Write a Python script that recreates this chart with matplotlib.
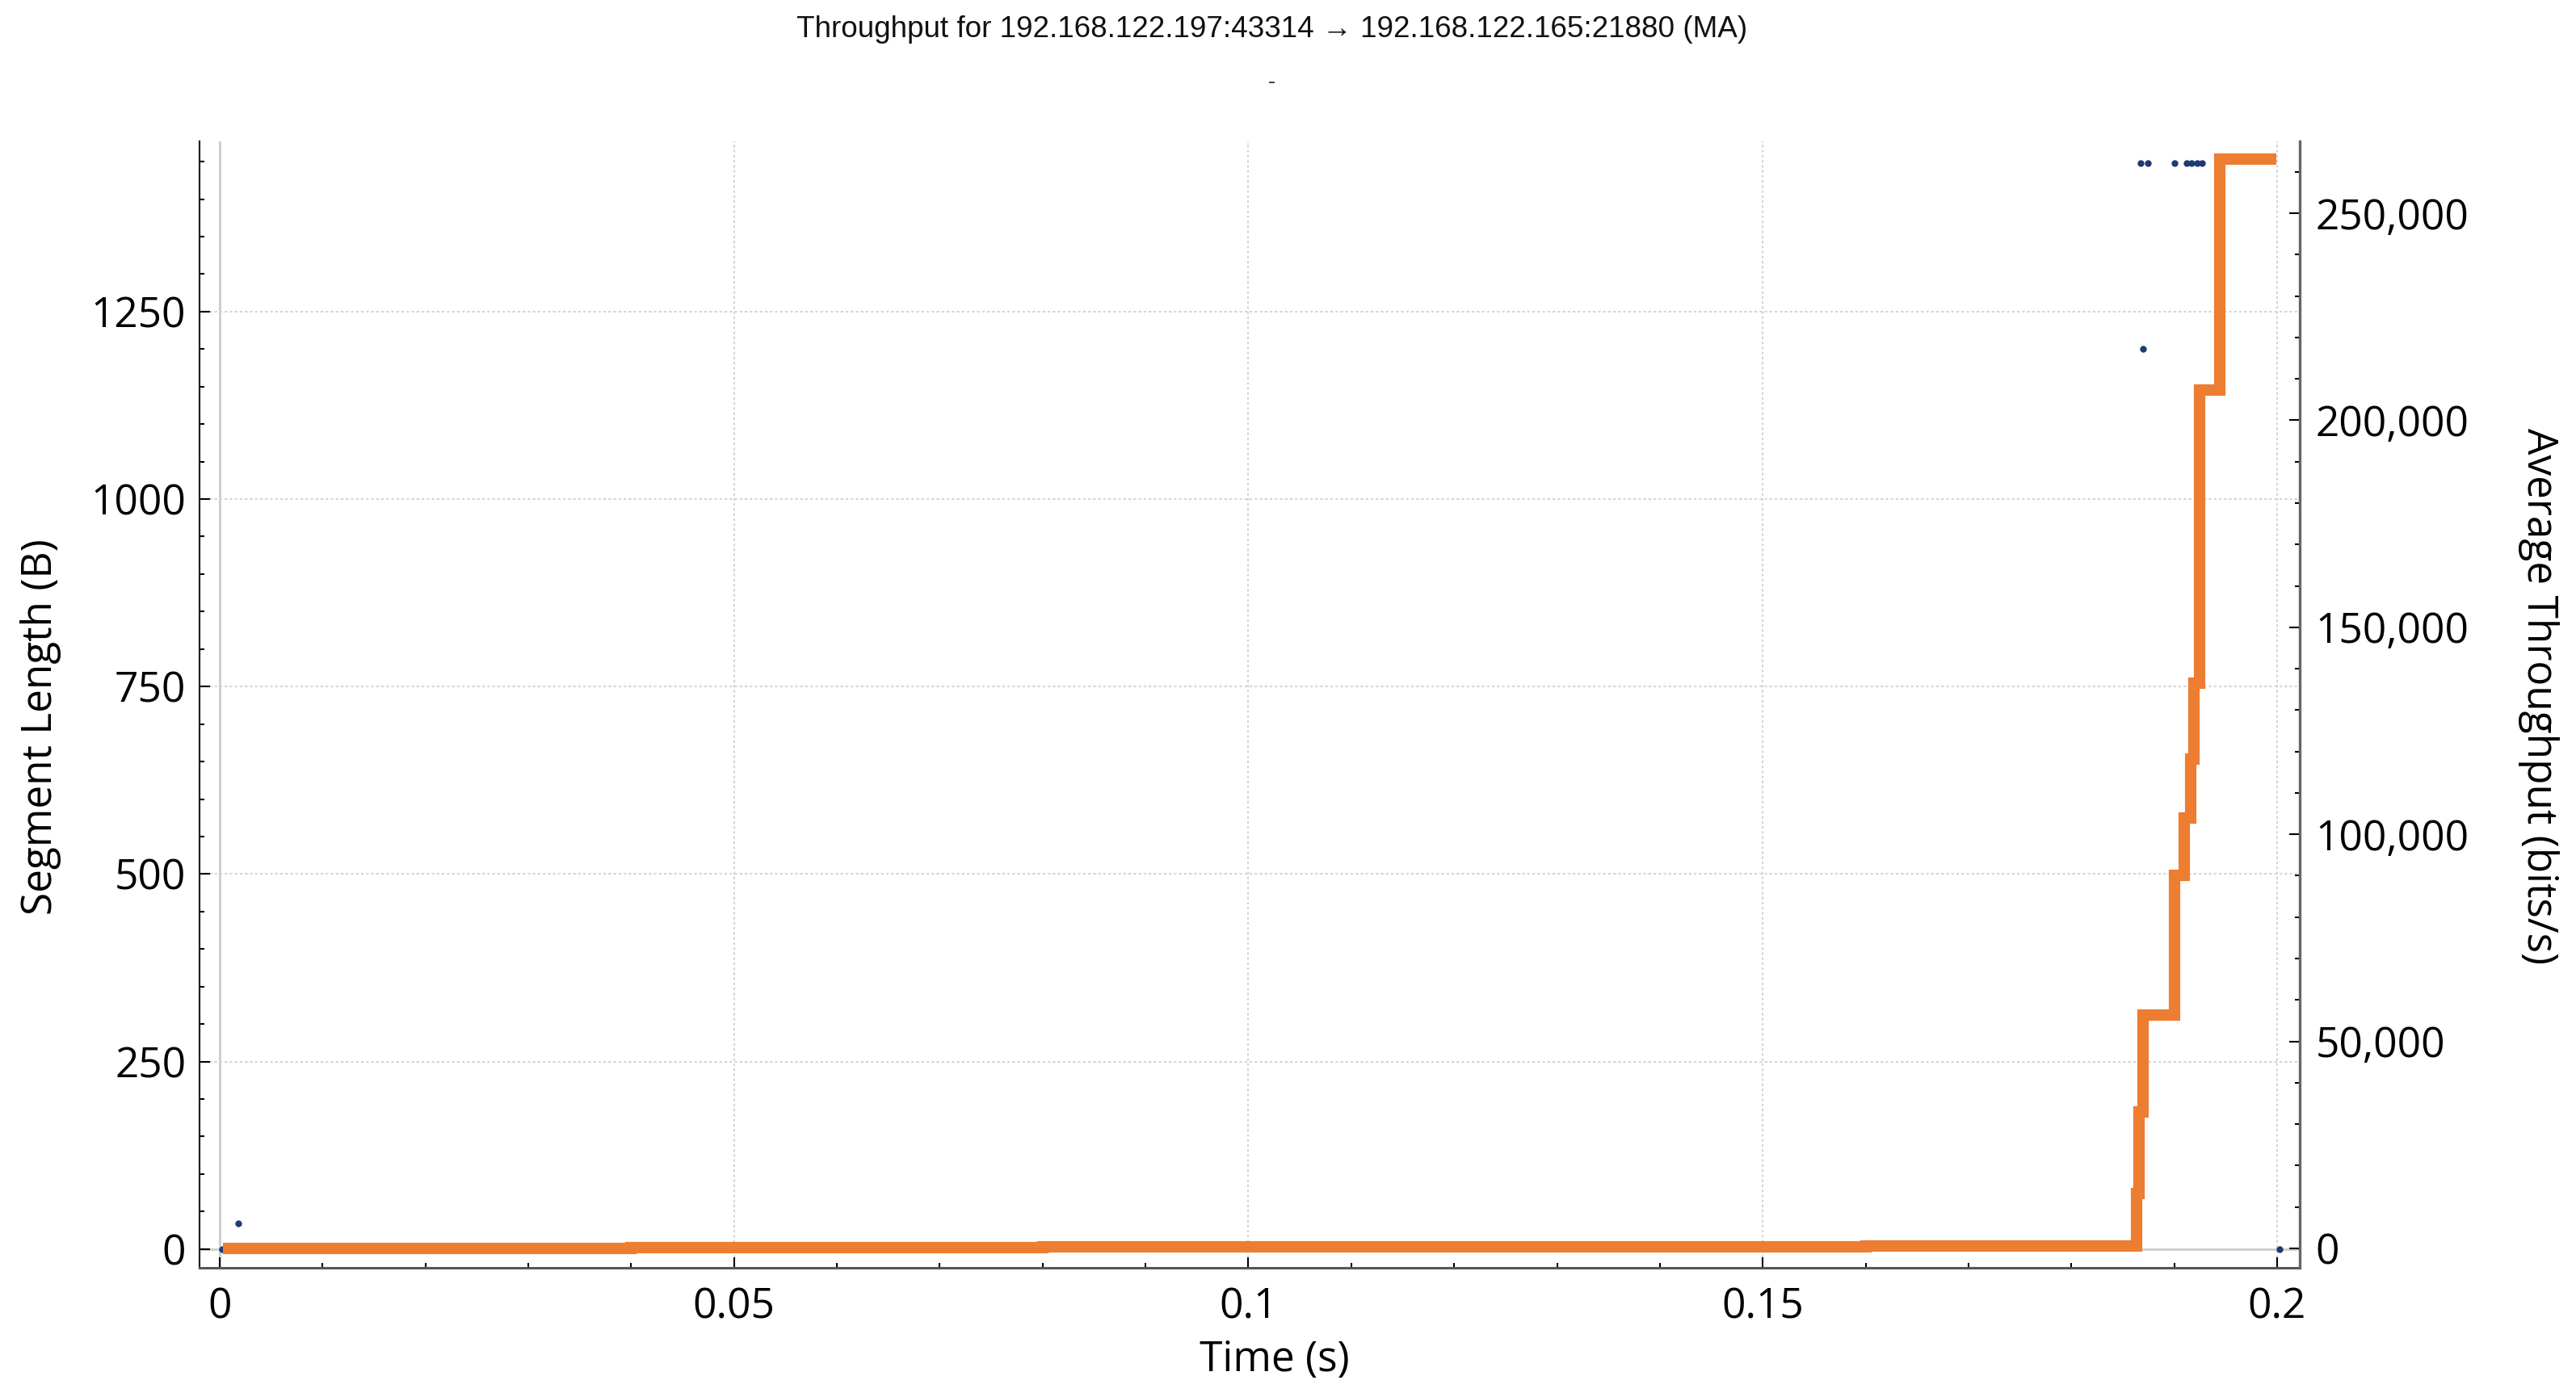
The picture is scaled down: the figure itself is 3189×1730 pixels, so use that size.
import numpy as np
import matplotlib.pyplot as plt
from matplotlib.ticker import MultipleLocator, FuncFormatter

# segment lengths (left axis)
seg_time = [0.0002, 0.0018, 0.1867, 0.1870, 0.1874, 0.1900, 0.1912, 0.1917, 0.1922, 0.1927, 0.2002]
seg_len = [0, 34, 1448, 1200, 1448, 1448, 1448, 1448, 1448, 1448, 0]

# moving average throughput (right axis), step values
tp_time = [0.0003, 0.04, 0.08, 0.12, 0.16, 0.1863, 0.1866, 0.1870, 0.1900,
           0.1910, 0.1916, 0.1919, 0.1925, 0.1944, 0.1999]
tp_bits = [0, 150, 300, 450, 600, 13300, 33000, 56400, 90100,
           103900, 118200, 136500, 207300, 263100, 263100]

plt.rcParams['font.family'] = ['Open Sans', 'DejaVu Sans']

fig = plt.figure(figsize=(31.89, 17.30), dpi=100)
ax = fig.add_axes([247/3189, 1 - 1570/1730, 2600/3189, 1395/1730])
ax2 = ax.twinx()

# grid + zero lines
ax.axvline(0, color='#cfcfcf', lw=2.2, zorder=0)
ax.axhline(0, color='#cfcfcf', lw=2.2, zorder=0)
for gx in [0.05, 0.1, 0.15, 0.2]:
    ax.axvline(gx, color='#d4d4d4', lw=1.5, ls=(0, (1.5, 1.5)), zorder=0)
for gy in [250, 500, 750, 1000, 1250]:
    ax.axhline(gy, color='#d4d4d4', lw=1.5, ls=(0, (1.5, 1.5)), zorder=0)

ax.plot(seg_time, seg_len, 'o', color='#1f3b73', ms=6, mew=0, zorder=3)
ax2.plot(tp_time, tp_bits, drawstyle='steps-post', color='#ed7d31', lw=10.2,
         solid_joinstyle='miter', solid_capstyle='butt')

ax.set_xlim(-0.00196, 0.2022)
ax.set_ylim(-25, 1477)
ax2.set_ylim(-4680, 267360)

ax.xaxis.set_minor_locator(MultipleLocator(0.01))
ax.set_xticks([0, 0.05, 0.1, 0.15, 0.2])
ax.set_xticklabels(['0', '0.05', '0.1', '0.15', '0.2'])
ax.yaxis.set_major_locator(MultipleLocator(250))
ax.yaxis.set_minor_locator(MultipleLocator(50))
ax2.yaxis.set_major_locator(MultipleLocator(50000))
ax2.yaxis.set_minor_locator(MultipleLocator(10000))
ax2.yaxis.set_major_formatter(FuncFormatter(lambda v, p: f'{int(v):,}'))

for a in (ax, ax2):
    a.tick_params(which='major', direction='in', length=9.4, width=1.5, labelsize=37)
    a.tick_params(which='minor', direction='in', length=4.5, width=1.5)
ax.tick_params(axis='y', pad=12)
ax.tick_params(axis='x', pad=17)
ax2.tick_params(axis='y', pad=14)

ax.spines['top'].set_visible(False)
ax2.spines['top'].set_visible(False)
ax.spines['left'].set_color('#222222')
ax.spines['left'].set_linewidth(1.6)
ax.spines['bottom'].set_color('#555555')
ax.spines['bottom'].set_linewidth(2.2)
ax2.spines['right'].set_color('#666666')
ax2.spines['right'].set_linewidth(2.4)
ax2.spines['left'].set_visible(False)
ax2.spines['bottom'].set_visible(False)

ax.set_xlabel('Time (s)', fontsize=37, va='center')
ax.xaxis.set_label_coords(0.512, -0.082)
ax.set_ylabel('Segment Length (B)', fontsize=37, va='center')
ax.yaxis.set_label_coords(-0.0754, 0.48)
ax2.set_ylabel('Average Throughput (bits/s)', fontsize=37, rotation=270, va='center')
ax2.yaxis.set_label_coords(1.1135, 0.5075)

fig.text(0.4936, 0.979, 'Throughput for 192.168.122.197:43314 \u2192 192.168.122.165:21880 (MA)',
         ha='center', va='center', fontsize=26.6, color='#111111',
         family=['Liberation Sans', 'DejaVu Sans'])
fig.text(0.4936, 0.941, '-', ha='center', va='center', fontsize=20, color='#333333')

fig.savefig('out.png', dpi=100)
